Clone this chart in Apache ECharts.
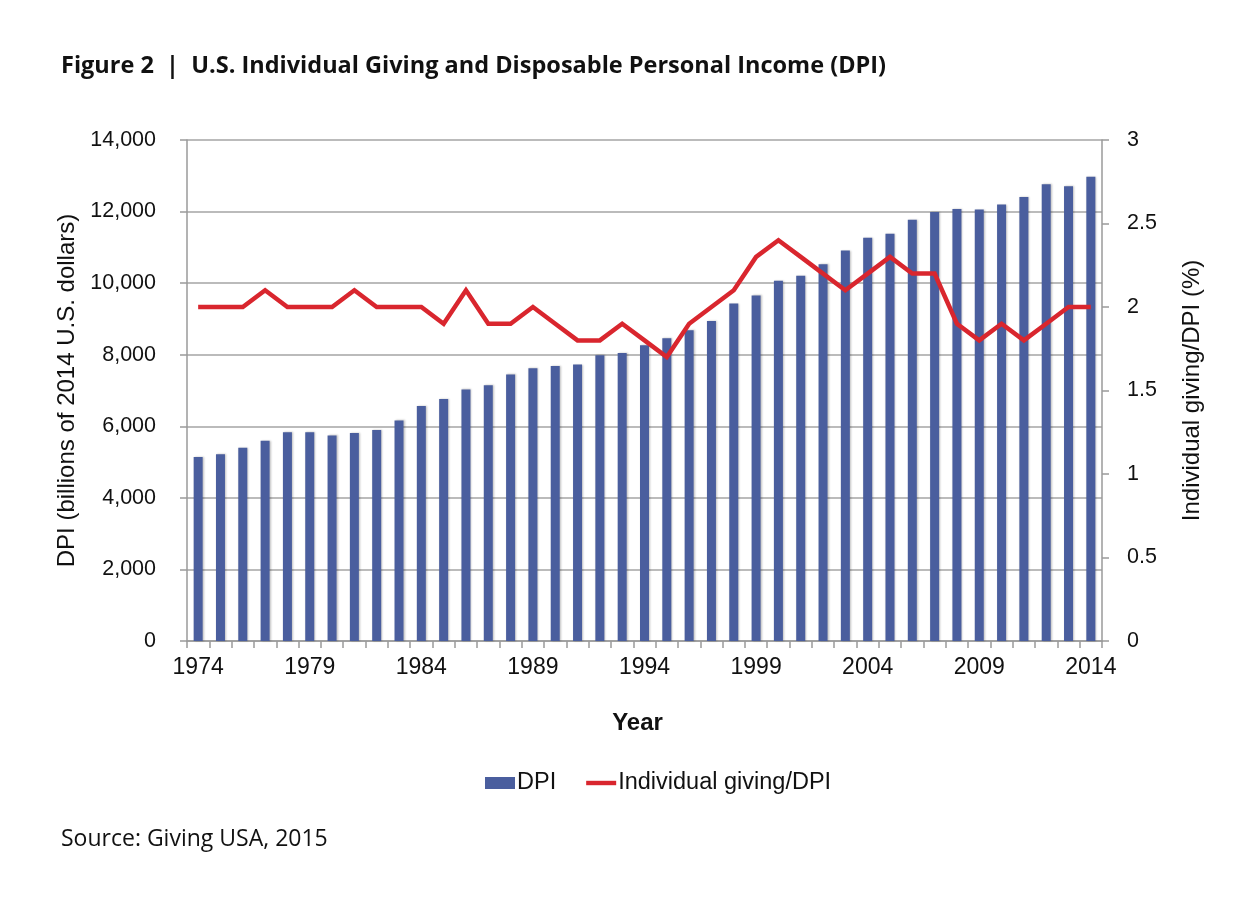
<!DOCTYPE html>
<html>
<head>
<meta charset="utf-8">
<script src="https://cdn.jsdelivr.net/npm/echarts@6/dist/echarts.min.js"></script>
<style>
html,body{margin:0;padding:0;background:#fff;}
#chart{width:1242px;height:910px;}
</style>
</head>
<body>
<div id="chart"></div>
<script>
const years = ['1974','1975','1976','1977','1978','1979','1980','1981','1982','1983','1984','1985','1986','1987','1988','1989','1990','1991','1992','1993','1994','1995','1996','1997','1998','1999','2000','2001','2002','2003','2004','2005','2006','2007','2008','2009','2010','2011','2012','2013','2014'];
const dpi = [5140,5220,5400,5595,5830,5830,5745,5810,5895,6165,6565,6760,7030,7145,7450,7620,7685,7725,7985,8050,8265,8460,8685,8945,9430,9655,10065,10210,10525,10910,11270,11380,11770,11990,12075,12055,12195,12410,12765,12710,12970];
const givingRatio = [2.0,2.0,2.0,2.1,2.0,2.0,2.0,2.1,2.0,2.0,2.0,1.9,2.1,1.9,1.9,2.0,1.9,1.8,1.8,1.9,1.8,1.7,1.9,2.0,2.1,2.3,2.4,2.3,2.2,2.1,2.2,2.3,2.2,2.2,1.9,1.8,1.9,1.8,1.9,2.0,2.0];
const leftTicks = {min:0, max:14000, interval:2000};
const rightTicks = {min:0, max:3, interval:0.5};

const chart = echarts.init(document.getElementById('chart'), null, {renderer:'canvas'});
const axisGray = '#9a9a9a';
const labelFont = 'Liberation Sans, Arial, sans-serif';
const red = '#D9262E';
chart.setOption({
  backgroundColor:'#ffffff',
  animation:false,
  title:[
    {text:'Figure 2  |  U.S. Individual Giving and Disposable Personal Income (DPI)', left:56, top:49,
     textStyle:{fontFamily:'Open Sans, sans-serif', fontWeight:'bold', fontSize:23.5, color:'#111'}},
    {text:'Source: Giving USA, 2015', left:56, top:823,
     textStyle:{fontFamily:'Open Sans, sans-serif', fontWeight:'normal', fontSize:23, color:'#111'}}
  ],
  grid:{left:187, right:140, top:140, bottom:269, containLabel:false},
  legend:{
    left:480, top:766, itemWidth:30, itemHeight:12, itemGap:30,
    textStyle:{fontFamily:labelFont, fontSize:23.5, color:'#111', padding:[0,0,0,-3]},
    data:[{name:'DPI', icon:'rect'},
          {name:'Individual giving/DPI', icon:'path://M0,0H34V5H0Z', itemStyle:{color:red}}]
  },
  xAxis:{
    type:'category', data:years, boundaryGap:true,
    name:'Year', nameLocation:'middle', nameGap:70,
    nameTextStyle:{fontFamily:labelFont, fontWeight:'bold', fontSize:24, color:'#111', padding:[0,14,0,0]},
    axisLine:{show:true, lineStyle:{color:axisGray, width:1.5}},
    axisTick:{show:true, interval:0, length:7, lineStyle:{color:axisGray, width:1.5}},
    axisLabel:{interval:4, margin:15, fontFamily:labelFont, fontSize:23, color:'#111'}
  },
  yAxis:[
    {type:'value', min:leftTicks.min, max:leftTicks.max, interval:leftTicks.interval, position:'left',
     name:'DPI (billions of 2014 U.S. dollars)', nameLocation:'middle', nameGap:100, nameRotate:90,
     nameTextStyle:{fontFamily:labelFont, fontSize:24, color:'#111'},
     axisLine:{show:true, lineStyle:{color:axisGray, width:1.5}},
     axisTick:{show:true, length:7, lineStyle:{color:axisGray, width:1.5}},
     splitLine:{show:true, lineStyle:{color:'#a4a4a4', width:1.5}},
     axisLabel:{margin:31, fontFamily:labelFont, fontSize:21.5, color:'#111',
       formatter:v=>v.toLocaleString('en-US')}},
    {type:'value', min:rightTicks.min, max:rightTicks.max, interval:rightTicks.interval, position:'right',
     name:'Individual giving/DPI (%)', nameLocation:'middle', nameGap:78, nameRotate:90,
     nameTextStyle:{fontFamily:labelFont, fontSize:24, color:'#111'},
     axisLine:{show:true, lineStyle:{color:axisGray, width:1.5}},
     axisTick:{show:true, length:7, lineStyle:{color:axisGray, width:1.5}},
     splitLine:{show:false},
     axisLabel:{margin:25, fontFamily:labelFont, fontSize:21.5, color:'#111'}}
  ],
  series:[
    {name:'DPI', type:'bar', data:dpi, barWidth:9, yAxisIndex:0,
     itemStyle:{color:'#4A5E9E', shadowColor:'rgba(0,0,0,0.25)', shadowBlur:2, shadowOffsetX:1, shadowOffsetY:0}},
    {name:'Individual giving/DPI', type:'line', data:givingRatio, yAxisIndex:1, symbol:'none', z:5,
     lineStyle:{color:red, width:4.5, join:'miter'}, itemStyle:{color:red}}
  ]
});
</script>
</body>
</html>
